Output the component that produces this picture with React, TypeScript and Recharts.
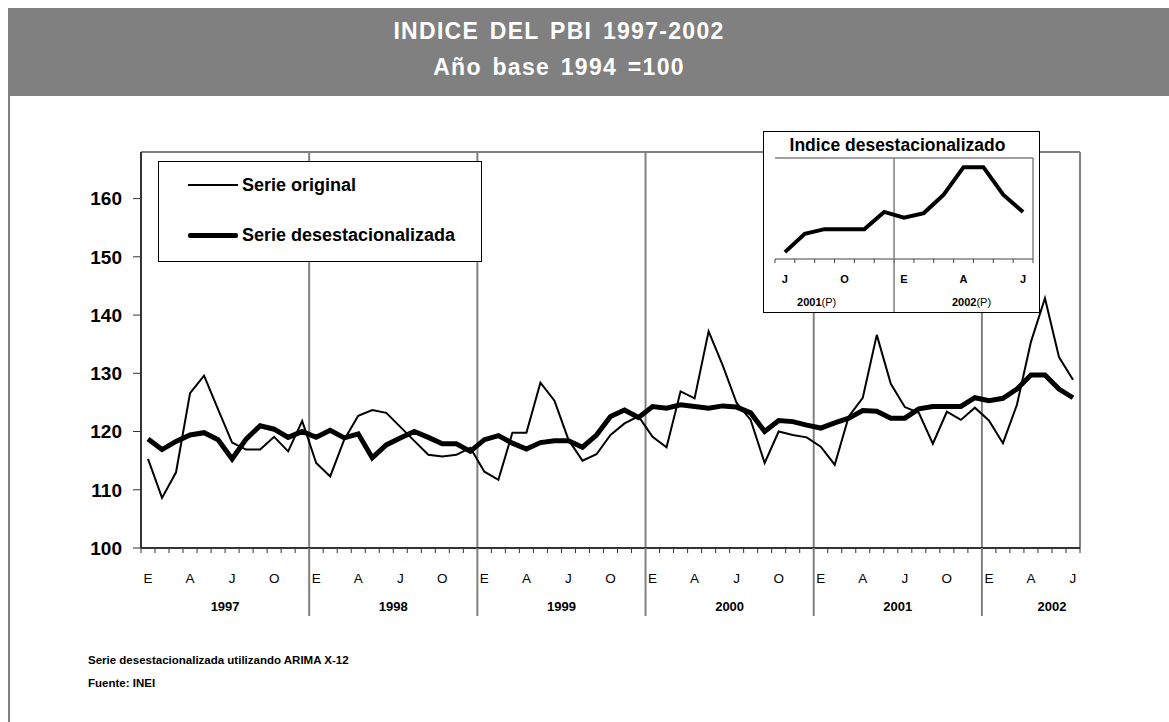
import React from 'react';
import { LineChart, Line, XAxis, YAxis, ReferenceLine } from 'recharts';

const FONT = '"Liberation Sans", Arial, Helvetica, sans-serif';

const years = ['1997', '1998', '1999', '2000', '2001', '2002'];
const monthInitials = ['E', 'F', 'M', 'A', 'M', 'J', 'J', 'A', 'S', 'O', 'N', 'D'];

const serieOriginal = [
  115.3, 108.6, 113.0, 126.6, 129.6, 123.8, 118.1, 116.9, 116.9, 119.1, 116.6, 121.8,
  114.6, 112.3, 118.6, 122.7, 123.7, 123.2, 120.8, 118.4, 116.0, 115.7, 116.0, 117.2,
  113.1, 111.7, 119.8, 119.8, 128.4, 125.3, 118.6, 115.0, 116.1, 119.4, 121.4, 122.6,
  119.1, 117.3, 126.9, 125.7, 137.2, 131.4, 124.9, 122.0, 114.6, 120.0, 119.4, 119.0,
  117.4, 114.3, 122.6, 125.8, 136.6, 128.2, 124.2, 123.2, 117.9, 123.4, 122.0, 124.1,
  121.9, 118.0, 124.6, 135.4, 142.9, 132.8, 128.9,
];

const serieDesest = [
  118.7, 116.9, 118.3, 119.4, 119.8, 118.6, 115.3, 118.7, 121.0, 120.4, 119.0, 120.0,
  119.0, 120.2, 118.9, 119.6, 115.5, 117.7, 118.9, 120.0, 119.0, 117.9, 117.9, 116.6,
  118.6, 119.3, 118.0, 117.0, 118.1, 118.4, 118.4, 117.3, 119.4, 122.6, 123.7, 122.4,
  124.3, 124.0, 124.6, 124.3, 124.0, 124.4, 124.2, 123.2, 120.0, 121.9, 121.7, 121.1,
  120.6, 121.5, 122.3, 123.6, 123.5, 122.3, 122.3, 123.9, 124.3, 124.3, 124.3, 125.8,
  125.3, 125.7, 127.3, 129.7, 129.7, 127.3, 125.8,
];

const yTicks = [100, 110, 120, 130, 140, 150, 160];
const yDomain = [100, 168];
const yearLabelPositions = [5.5, 17.5, 29.5, 41.5, 53.5, 64.5];
const yearBoundaries = [11.5, 23.5, 35.5, 47.5, 59.5];

const insetStart = 54;
const insetYears = ['2001', '2002'];
const insetYearLabelPositions = [1.6, 9.4];
const insetBoundary = 5.5;
const insetDomain = [121.7, 130.5];

const data = serieOriginal.map((v, i) => ({ i, original: v, desest: serieDesest[i] }));
const monthBoundaries = Array.from({ length: data.length + 1 }, (_, k) => k - 0.5);
const labelTicks = data.filter((d) => d.i % 3 === 0).map((d) => d.i);
const xDomain = [-0.5, data.length - 0.5];

const insetData = serieDesest.slice(insetStart).map((v, k) => ({ k, desest: v }));
const insetBoundaries = Array.from({ length: insetData.length + 1 }, (_, k) => k - 0.5);
const insetLabelTicks = insetData.filter((d) => d.k % 3 === 0).map((d) => d.k);
const insetXDomain = [-0.5, insetData.length - 0.5];

const GRAY = '#808080';
const AXIS = '#333333';

const BoundaryTick = (props: any) => {
  const { x, y, payload } = props;
  const isYear = yearBoundaries.includes(payload.value);
  return (
    <g>
      {isYear && <line x1={x} x2={x} y1={y - 5} y2={y + 63} stroke={GRAY} strokeWidth={2} />}
    </g>
  );
};

const MonthTick = (props: any) => {
  const { x, y, payload } = props;
  return (
    <text x={x} y={y + 22} textAnchor="middle" dominantBaseline="central" fontSize={13.5} fontFamily={FONT} fill="#000">
      {monthInitials[payload.value % 12]}
    </text>
  );
};

const YearTick = (props: any) => {
  const { x, y, payload } = props;
  const idx = yearLabelPositions.indexOf(payload.value);
  return (
    <text x={x} y={y + 12} textAnchor="middle" dominantBaseline="central" fontSize={13} fontWeight="bold" fontFamily={FONT} fill="#000">
      {years[idx]}
    </text>
  );
};

const InsetBoundaryTick = (props: any) => {
  const { x, y, payload } = props;
  return (
    <g>
      {payload.value === insetBoundary && (
        <line x1={x} x2={x} y1={y - 4} y2={y + 50} stroke={GRAY} strokeWidth={1.5} />
      )}
    </g>
  );
};

const InsetMonthTick = (props: any) => {
  const { x, y, payload } = props;
  return (
    <text x={x} y={y + 15.5} textAnchor="middle" dominantBaseline="central" fontSize={11} fontWeight="bold" fontFamily={FONT} fill="#000">
      {monthInitials[(insetStart + payload.value) % 12]}
    </text>
  );
};

const InsetYearTick = (props: any) => {
  const { x, y, payload } = props;
  const idx = insetYearLabelPositions.indexOf(payload.value);
  return (
    <text x={x} y={y + 14.5} textAnchor="middle" dominantBaseline="central" fontSize={11} fontFamily={FONT} fill="#000">
      <tspan fontWeight="bold">{insetYears[idx]}</tspan>
      <tspan>(P)</tspan>
    </text>
  );
};

const titleStyle: React.CSSProperties = {
  position: 'absolute', left: 0, width: 1118, textAlign: 'center', color: '#fff',
  fontWeight: 'bold', fontSize: 23, letterSpacing: 1.3, wordSpacing: 3, lineHeight: '26px', whiteSpace: 'nowrap',
};

export default function App() {
  return (
    <div style={{ position: 'relative', width: 1169, height: 722, fontFamily: FONT, overflow: 'hidden', background: '#fff' }}>
      <style>{'body{margin:0;}'}</style>
      {/* title band */}
      <div style={{ position: 'absolute', left: 8, top: 8, width: 1161, height: 88, background: GRAY }} />
      <div style={{ position: 'absolute', left: 8, top: 96, width: 2, height: 626, background: GRAY }} />
      <div style={{ ...titleStyle, top: 18 }}>INDICE DEL PBI 1997-2002</div>
      <div style={{ ...titleStyle, top: 54 }}>Año base 1994 =100</div>

      {/* main chart */}
      <div style={{ position: 'absolute', left: 0, top: 0 }}>
        <LineChart width={1169} height={722} data={data} margin={{ top: 152, right: 89, bottom: 88, left: 0 }}>
          <XAxis
            xAxisId="a" dataKey="i" type="number" domain={xDomain} allowDataOverflow ticks={monthBoundaries} interval={0}
            height={8} tickSize={5} tickMargin={0} tick={BoundaryTick}
            tickLine={{ stroke: AXIS, strokeWidth: 1 }} axisLine={{ stroke: AXIS, strokeWidth: 2 }}
          />
          <XAxis
            xAxisId="b" dataKey="i" type="number" domain={xDomain} allowDataOverflow ticks={labelTicks} interval={0}
            height={38} tickSize={0} tickMargin={0} tickLine={false} axisLine={false} tick={MonthTick}
          />
          <XAxis
            xAxisId="c" dataKey="i" type="number" domain={xDomain} allowDataOverflow ticks={yearLabelPositions} interval={0}
            height={40} tickSize={0} tickMargin={0} tickLine={false} axisLine={false} tick={YearTick}
          />
          <YAxis
            yAxisId="l" domain={yDomain} allowDataOverflow ticks={yTicks} interval={0} width={141} tickSize={8} tickMargin={11}
            tick={{ fontSize: 19, fontWeight: 'bold', fill: '#000', fontFamily: FONT }}
            tickLine={{ stroke: AXIS }} axisLine={{ stroke: AXIS, strokeWidth: 2 }}
          />
          <ReferenceLine y={yDomain[1]} xAxisId="a" yAxisId="l" stroke={GRAY} strokeWidth={2} />
          <ReferenceLine x={xDomain[1]} xAxisId="a" yAxisId="l" stroke={GRAY} strokeWidth={2} />
          {yearBoundaries.map((b) => (
            <ReferenceLine key={b} x={b} xAxisId="a" yAxisId="l" stroke={GRAY} strokeWidth={2} />
          ))}
          <Line
            xAxisId="a" yAxisId="l" type="linear" dataKey="original" stroke="#000" strokeWidth={2}
            dot={false} isAnimationActive={false}
          />
          <Line
            xAxisId="a" yAxisId="l" type="linear" dataKey="desest" stroke="#000" strokeWidth={5}
            dot={false} isAnimationActive={false}
          />
        </LineChart>
      </div>

      {/* legend */}
      <div
        style={{
          position: 'absolute', left: 158, top: 161, width: 322, height: 99, border: '1px solid #000',
          background: '#fff',
        }}
      >
        <div style={{ position: 'absolute', left: 29, top: 22, width: 50, height: 2, background: '#000' }} />
        <div style={{ position: 'absolute', left: 83, top: 12, fontSize: 18, fontWeight: 'bold', lineHeight: '22px' }}>
          Serie original
        </div>
        <div style={{ position: 'absolute', left: 29, top: 71, width: 50, height: 5, background: '#000', borderRadius: 2 }} />
        <div style={{ position: 'absolute', left: 83, top: 62, fontSize: 18, fontWeight: 'bold', lineHeight: '22px' }}>
          Serie desestacionalizada
        </div>
      </div>

      {/* inset */}
      <div
        style={{
          position: 'absolute', left: 763, top: 131, width: 275, height: 180, border: '1.5px solid #000',
          background: '#fff',
        }}
      >
        <div
          style={{
            position: 'absolute', left: 0, top: 3, width: 267, textAlign: 'center', fontSize: 17.5,
            fontWeight: 'bold', lineHeight: '20px',
          }}
        >
          Indice desestacionalizado
        </div>
        <LineChart width={275} height={180} data={insetData} margin={{ top: 26, right: 6, bottom: 0, left: 11 }}>
          <XAxis
            xAxisId="a" dataKey="k" type="number" domain={insetXDomain} allowDataOverflow ticks={insetBoundaries} interval={0}
            height={4} tickSize={4} tickMargin={0} tick={InsetBoundaryTick}
            tickLine={{ stroke: '#444' }} axisLine={{ stroke: GRAY, strokeWidth: 1.5 }}
          />
          <XAxis
            xAxisId="b" dataKey="k" type="number" domain={insetXDomain} allowDataOverflow ticks={insetLabelTicks} interval={0}
            height={24} tickSize={0} tickMargin={0} tickLine={false} axisLine={false} tick={InsetMonthTick}
          />
          <XAxis
            xAxisId="c" dataKey="k" type="number" domain={insetXDomain} allowDataOverflow ticks={insetYearLabelPositions} interval={0}
            height={25} tickSize={0} tickMargin={0} tickLine={false} axisLine={false} tick={InsetYearTick}
          />
          <YAxis
            yAxisId="l" domain={insetDomain} allowDataOverflow width={0} tick={false} tickLine={false}
            axisLine={{ stroke: GRAY, strokeWidth: 1.5 }}
          />
          <ReferenceLine y={insetDomain[1]} xAxisId="a" yAxisId="l" stroke={GRAY} strokeWidth={1.5} />
          <ReferenceLine x={insetXDomain[1]} xAxisId="a" yAxisId="l" stroke={GRAY} strokeWidth={1.5} />
          <ReferenceLine x={insetBoundary} xAxisId="a" yAxisId="l" stroke={GRAY} strokeWidth={1.5} />
          <Line
            xAxisId="a" yAxisId="l" type="linear" dataKey="desest" stroke="#000" strokeWidth={4}
            dot={false} isAnimationActive={false}
          />
        </LineChart>
      </div>

      {/* footnotes */}
      <div style={{ position: 'absolute', left: 88, top: 652, fontSize: 11.5, fontWeight: 'bold', lineHeight: '16px' }}>
        Serie desestacionalizada utilizando ARIMA X-12
      </div>
      <div style={{ position: 'absolute', left: 88, top: 675, fontSize: 11.5, fontWeight: 'bold', lineHeight: '16px' }}>
        Fuente: INEI
      </div>
    </div>
  );
}
